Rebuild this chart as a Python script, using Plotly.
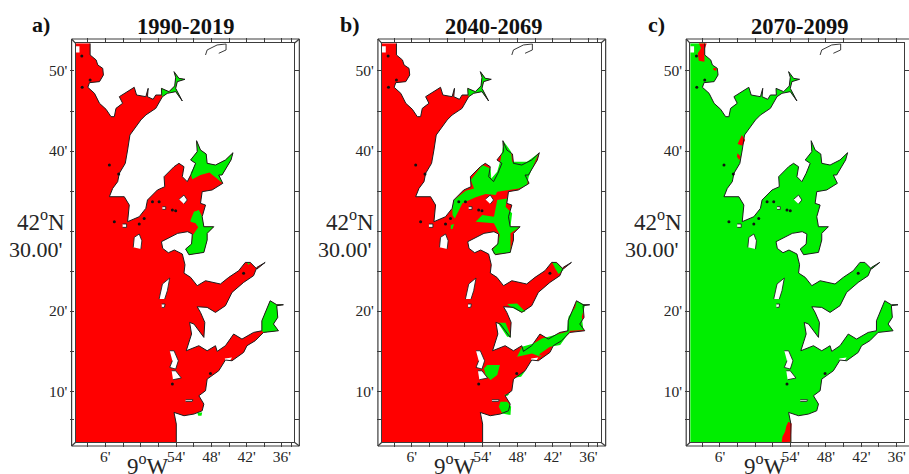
import plotly.graph_objects as go

# Map positions are arc-minutes relative to 9 deg W (east positive) and 42 deg N.
periods = ["1990-2019", "2040-2069", "2070-2099"]
panel_tags = ["a)", "b)", "c)"]
lon_ticks = [-6, 6, 12, 18, 24]
lon_text = ["6'", "54'", "48'", "42'", "36'"]
lon_minor = [-9, -3, 0, 3, 9, 15, 21, 25.6]
lat_ticks = [10, 20, 40, 50]
lat_text = ["10'", "20'", "40'", "50'"]
lat_minor = [6.5, 15, 25, 30, 35, 45]
lon_min, lat_min, lat_max = -11.06, 3.6, 53.46

coast_lon = [-8.59,-8.59,-7.57,-7.29,-6.45,-6.33,-7.0,-8.7,-8.98,-7.85,-7.0,-5.88,-5.04,-4.48,-4.2,-3.07,-3.63,-2.22,-1.1,-0.7,0.87,1.27,1.15,2.11,2.56,3.58,3.52,4.81,5.77,5.94,5.66,6.5,7.52,6.22,5.94,7.07,5.94,4.53,3.69,2.56,0.87,0.03,-1.1,-1.83,-2.22,-2.62,-3.63,-3.91,-4.76,-5.32,-2.79,-1.94,-2.22,-0.25,0.87,1.15,2.84,4.08,3.97,5.66,6.5,7.35,7.07,7.91,8.64,9.32,8.48,9.6,9.49,10.16,11.12,11.29,12.7,14.39,15.68,15.34,13.82,13.26,13.94,12.7,12.13,10.44,10.16,11.01,10.44,10.73,12.41,11.29,11.29,10.73,9.32,8.2,7.63,8.64,8.76,7.97,6.28,4.03,3.52,3.74,4.7,5.72,7.07,7.52,7.35,8.48,9.6,11.01,13.54,14.95,16.64,17.77,18.61,19.74,21.14,19.74,19.17,17.48,15.51,14.39,12.7,11.29,9.6,10.16,10.89,10.73,9.88,9.04,8.31,8.64,7.74,9.88,11.29,12.7,12.98,14.39,15.79,17.2,19.17,20.58,20.58,21.99,23.11,24.24,23.11,23.28,22.55,23.4,20.86,19.45,18.05,17.48,15.51,14.39,13.26,11.29,11.01,9.88,10.73,10.44,9.04,7.35,5.66,6.05,6.05]
coast_lat = [53.46,52.0,51.38,50.75,50.33,49.5,48.67,48.54,47.96,47.21,45.96,45.21,44.29,44.29,45.33,45.96,46.79,47.42,47.96,47.0,46.79,47.83,46.79,46.46,47.0,47.0,47.83,47.42,48.13,49.21,49.92,49.08,48.96,48.67,47.83,46.25,47.42,47.21,46.79,45.33,44.5,43.88,42.83,42.0,40.13,38.46,37.21,36.17,35.33,34.29,34.29,33.25,31.17,31.79,32.83,33.88,35.13,35.54,36.79,38.04,38.46,38.04,36.79,36.17,37.21,38.46,38.88,39.92,41.29,40.13,39.63,38.46,38.25,38.88,39.79,38.88,37.0,37.0,35.96,35.33,35.13,34.92,33.46,33.25,31.79,30.54,30.54,29.71,28.88,27.33,27.13,27.04,27.75,28.38,29.63,29.92,29.71,28.88,28.67,27.83,27.29,27.63,27.13,25.79,24.75,24.21,23.17,23.79,23.38,24.21,25.04,26.08,26.08,25.25,26.08,25.46,24.42,23.58,22.33,20.67,19.83,20.46,20.54,19.83,18.58,16.71,17.54,18.38,18.58,17.13,15.04,15.67,15.04,15.67,14.96,15.67,17.13,16.5,17.33,17.54,18.79,21.29,20.79,20.79,20.67,19.21,18.38,17.54,17.33,16.29,15.67,14.83,13.79,13.88,12.54,11.5,10.04,9.42,8.38,7.54,7.13,6.92,7.33,5.88,3.6]

# Land inside the map (islands, inlets), drawn white with an outline
islands = [
    ([11.01,11.29,12.98,14.5,14.5,13.26], [52.0,52.63,53.25,53.38,52.63,52.21]),
    ([6.5,7.35,7.91,7.35], [33.96,34.5,33.88,33.38]),
    ([-1.27,-1.1,-0.25,0.2,0.03], [27.96,29.21,29.63,28.79,27.75]),
    ([3.13,3.69,4.93,4.53,4.08], [21.5,23.38,24.13,22.54,21.5]),
    ([3.58,4.14,4.03,3.58], [20.88,20.88,20.46,20.46]),
    ([4.93,5.66,6.39,5.94,4.93,5.38], [15.04,15.04,13.79,12.75,12.96,13.79]),
    ([5.26,5.94,6.9,5.49], [12.54,12.54,11.63,11.42]),
    ([-3.07,-2.39,-2.39,-3.07], [30.88,30.88,30.46,30.46]),
    ([7.63,8.87,8.75,7.63], [8.92,8.92,8.71,8.71]),
    ([3.69,4.25,4.25,3.69], [33.04,33.04,32.71,32.71]),
]
# Unclassified cells, plain white
blank = [
    ([14.28,15.51,15.23,14.39], [14.08,14.21,13.88,13.79]),
    ([-11.06,-10.4,-10.4,-11.06], [53.1,53.1,52.3,52.3]),
]
speck_lon = [-10,-8.59,-9.94,-5.32,-3.74,-4.48,-0.25,0.59,2,3.13,5.38,5.94,5.38,11.85,17.48]
speck_lat = [51.88,48.88,47.96,38.25,37.13,31.17,30.88,31.58,33.67,33.67,32.63,32.54,10.88,12.2,24.71]

# Areas where the second class applies in 1990-2019 (green on red)
green_a = [
    ([8.48,9.32,8.48,9.6,9.49,10.16,11.12,11.29,12.7,14.39,15.68,15.34,13.82,13.26,13.94,12.98,11.68,10.16,8.76],
     [37.21,38.46,38.88,39.92,41.29,40.13,39.63,38.46,38.25,38.88,39.79,38.88,37.0,37.0,35.96,36.58,37.33,37.0,36.46]),
    ([8.48,9.04,9.88,10.44,10.73,12.41,11.29,11.29,10.73,8.2,7.63,8.64,8.87,9.77,9.32,8.48],
     [31.37,32.42,32.63,31.79,30.54,30.54,29.71,28.88,27.33,27.04,27.75,28.38,29.5,30.46,30.96,31.17]),
    ([3.58,3.52,4.81,5.77,5.94,5.66,6.5,7.52,6.22,5.94,7.07,5.94,4.53,3.69],
     [47.0,47.83,47.42,48.13,49.21,49.92,49.08,48.96,48.67,47.83,46.25,47.42,47.21,46.79]),
    ([20.58,20.58,21.99,23.11,24.24,23.11,23.28,22.55,23.4,20.86],
     [17.54,18.79,21.29,20.79,20.79,20.67,19.21,18.38,17.54,17.33]),
    ([9.6,10.44,10.33,9.77], [7.33,7.33,6.92,6.92]),
    ([18.05,18.61,18.33], [26.08,26.08,25.75]),
]
# 2040-2069
green_b = [
    ([3.58,3.52,4.81,5.77,5.94,5.66,6.5,7.52,6.22,5.94,7.07,5.94,4.53,3.69],
     [47.0,47.83,47.42,48.13,49.21,49.92,49.08,48.96,48.67,47.83,46.25,47.42,47.21,46.79]),
    ([0.93,1.21,3.18,4.59,4.03,6.0,7.4,7.52,8.53,9.09,9.66,10.89,11.06,13.6,15.57,13.88,13.6,12.19,10.5,8.53,8.25,6.56,4.87,2.62,2.05,1.32,0.93],
     [32.96,33.88,35.04,35.33,36.38,38.25,37.83,36.58,37.42,38.88,41.17,39.92,38.67,38.67,39.71,36.79,35.75,35.33,35.13,34.92,34.5,34.63,34.21,33.46,32.63,31.58,32.0]),
    ([8.53,10.22,9.94,11.06,10.78,12.36,10.78,10.78,7.97,7.69,8.64,8.98,7.97,4.87,6.0,7.97,8.25],
     [33.88,34.08,33.04,32.21,30.54,30.46,29.71,27.29,27.13,27.63,28.46,29.5,30.96,31.17,32.0,31.79,32.83]),
    ([0.65,1.21,0.93,0.65], [30.75,30.88,30.25,30.25]),
    ([17.82,18.67,19.79,18.95,18.38], [26.17,25.96,25.13,24.63,25.33]),
    ([10.22,11.91,13.32,12.47,11.06], [20.88,20.96,19.92,19.92,20.42]),
    ([8.64,9.94,10.89,10.22], [18.54,18.54,16.79,16.79]),
    ([22.04,23.45,22.89,23.17,20.92,19.23,17.54,15.85,14.44,11.91,12.75,14.72,16.13,18.1,20.36,20.64,21.76],
     [21.29,20.75,19.29,17.63,17.54,15.75,15.54,14.29,14.71,14.29,15.54,15.96,16.58,17.0,17.42,19.29,20.42]),
    ([6.84,8.98,8.53,7.4,6.56,6.28], [13.25,13.25,12.0,11.38,12.0,12.83]),
    ([11.63,13.32,12.58], [11.71,12.54,11.79]),
    ([9.09,10.22,10.89,10.78,9.38,8.81], [8.67,8.67,8.04,7.0,7.21,8.04]),
    ([9.66,10.67,10.22], [9.5,9.71,9.38]),
]
red_b = [
    ([15.85,17.54,16.7,15.57], [14.71,15.58,14.46,14.46]),
]
# 2070-2099: the base class is green, red only in a few spots
red_c = [
    ([-9.6,-8.25,-8.64,-8.64,-9.6,-9.77,-9.21], [53.46,53.46,52.63,51.17,51.29,52.21,52.83]),
    ([-7.12,-6.56,-6.67,-7.12], [50.42,50.33,50.04,50.13]),
    ([-2.28,-1.72,-2.17,-3.01,-2.62], [42.0,41.37,40.67,40.87,41.46]),
    ([-3.01,-2.45,-2.73,-3.12], [39.71,39.29,38.87,39.29]),
    ([5.6,6.17,6.0,4.49,4.6,5.05,5.27], [6.17,5.96,3.67,3.6,4.29,4.92,5.63]),
]

RED, GREEN = "#ff0000", "#00ee00"
W, H = 909, 474
INK = "#262626"
FRAME = "#3c3c3c"
FONT = "Liberation Serif"
TOP, BOT = 43.3, 442.3
offsets = [0, 308, 618]
tag_x = [41, 352, 660]
title_x = [187, 497, 804]
lat_label_x = [41, 352, 662]
lat2_label_x = [36, 347, 656]
lon_label_x = [149, 458, 769]

def fill(ax, xs, ys, color):
    return go.Scatter(x=xs, y=ys, xaxis="x" + ax, yaxis="y" + ax, mode="lines", fill="toself",
                      fillcolor=color, line=dict(width=0, color=color), hoverinfo="skip", showlegend=False)

panels = [(RED, green_a, GREEN), (RED, green_b, GREEN), (GREEN, [], RED)]
extras = [[], red_b, red_c]
fig = go.Figure()
layout = dict(width=W, height=H, margin=dict(l=0, r=0, t=0, b=0), paper_bgcolor="white",
              plot_bgcolor="white", showlegend=False)
annos, shapes = [], []

def line(x0, y0, x1, y1):
    shapes.append(dict(type="line", xref="paper", yref="paper", x0=x0 / W, x1=x1 / W,
                       y0=1 - y0 / H, y1=1 - y1 / H, line=dict(color=FRAME, width=1.2), layer="above"))

def text(s, x, y, size, bold=False):
    annos.append(dict(text=f"<b>{s}</b>" if bold else s, xref="paper", yref="paper", x=x / W, y=1 - y / H,
                      xanchor="center", yanchor="middle", showarrow=False,
                      font=dict(family=FONT, size=size, color="#111111" if bold else INK)))

for i, (base, patches, patch_color) in enumerate(panels):
    ax = "" if i == 0 else str(i + 1)
    off = offsets[i]
    left = 76 + off
    right = min(296 + off, W)
    x_max = lon_min + (right - left) / 5.92
    fig.add_trace(fill(ax, coast_lon + [lon_min, lon_min], coast_lat + [lat_min, lat_max], base))
    for xs, ys in patches:
        fig.add_trace(fill(ax, xs, ys, patch_color))
    for xs, ys in extras[i]:
        fig.add_trace(fill(ax, xs, ys, RED if i == 1 else patch_color))
    for xs, ys in blank:
        fig.add_trace(fill(ax, xs, ys, "white"))
    for xs, ys in islands:
        fig.add_trace(go.Scatter(x=xs, y=ys, xaxis="x" + ax, yaxis="y" + ax, mode="lines", fill="toself",
                                 fillcolor="white", line=dict(width=0.9, color="#222222"),
                                 hoverinfo="skip", showlegend=False))
    fig.add_trace(go.Scatter(x=coast_lon, y=coast_lat, xaxis="x" + ax, yaxis="y" + ax, mode="lines",
                             line=dict(width=1, color="#1c1c1c"), hoverinfo="skip", showlegend=False))
    fig.add_trace(go.Scatter(x=speck_lon, y=speck_lat, xaxis="x" + ax, yaxis="y" + ax, mode="markers",
                             marker=dict(size=3, color="#111111"), hoverinfo="skip", showlegend=False))
    common = dict(showgrid=False, zeroline=False, showline=True, linecolor=FRAME, linewidth=1.2, ticks="outside",
                  ticklen=4, tickwidth=1, tickcolor=FRAME, mirror="ticks", tickmode="array",
                  tickfont=dict(family=FONT, size=15.5, color=INK))
    minor = dict(ticks="outside", ticklen=4, tickwidth=1, tickcolor=FRAME, showgrid=False)
    layout["xaxis" + ax] = dict(common, domain=[left / W, right / W], range=[lon_min, x_max],
                                tickvals=lon_ticks, ticktext=lon_text, anchor="y" + ax, tickangle=0,
                                ticklabelstandoff=-4, minor=dict(minor, tickvals=lon_minor))
    layout["yaxis" + ax] = dict(common, domain=[1 - BOT / H, 1 - TOP / H], range=[lat_min, lat_max],
                                tickvals=lat_ticks, ticktext=lat_text, anchor="x" + ax,
                                minor=dict(minor, tickvals=lat_minor))
    # outer rail of the map frame
    rail_r = 301 + off
    line(72 + off, 39, min(rail_r, W + 5), 39)
    line(72 + off, 446, min(rail_r, W + 5), 446)
    line(72 + off, 39, 72 + off, 446)
    line(72 + off, 39, left, TOP)
    line(72 + off, 446, left, BOT)
    if i < 2:
        line(rail_r, 39, rail_r, 446)
        line(rail_r, 39, right, TOP)
        line(rail_r, 446, right, BOT)
    text(panel_tags[i], tag_x[i], 24, 22, bold=True)
    text(periods[i], title_x[i], 27, 22.5, bold=True)
    text("42<sup>o</sup>N", lat_label_x[i], 221, 23)
    text("30.00'", lat2_label_x[i], 249, 22)
    text("9<sup>o</sup>W", lon_label_x[i], 464, 23)

layout["annotations"] = annos
layout["shapes"] = shapes
fig.update_layout(**layout)
fig.write_html("out.html", config={"displayModeBar": False}, post_script="document.body.style.margin='0';")
